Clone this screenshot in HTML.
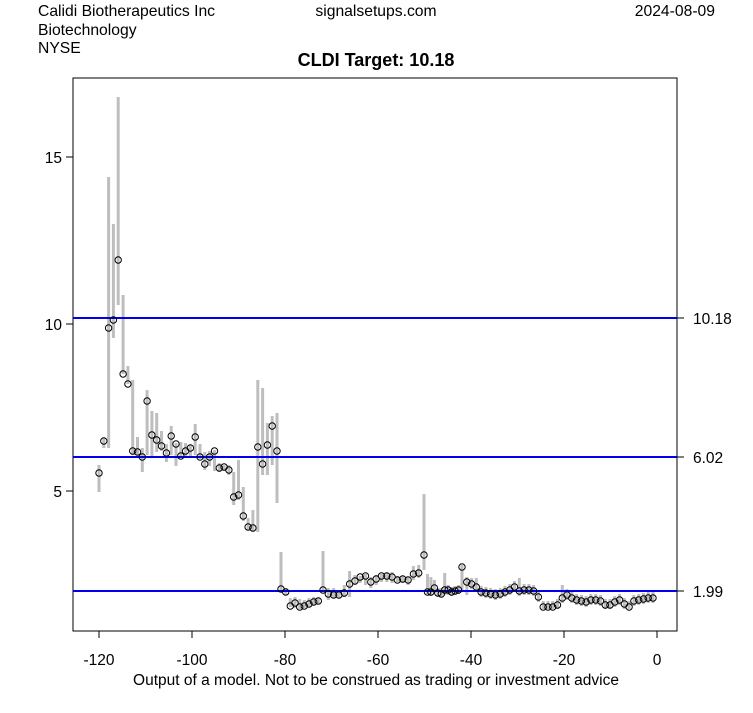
<!DOCTYPE html>
<html><head><style>
body{margin:0;background:#fff;}
svg text{font-family:"Liberation Sans",Arial,sans-serif;}
</style></head><body>
<svg id="s" width="753" height="708" xmlns="http://www.w3.org/2000/svg">
<rect width="753" height="708" fill="#fff"/>
<text x="38" y="16" font-size="15.7">Calidi Biotherapeutics Inc</text>
<text x="38" y="35" font-size="15.7">Biotechnology</text>
<text x="38" y="53" font-size="15.7">NYSE</text>
<text x="376" y="16" font-size="15.7" text-anchor="middle">signalsetups.com</text>
<text x="715" y="16" font-size="15.7" text-anchor="end">2024-08-09</text>
<text x="376" y="66" font-size="18" font-weight="bold" text-anchor="middle">CLDI Target: 10.18</text>
<rect x="73" y="78" width="604" height="553" fill="none" stroke="#000"/>
<g id="bars"></g>
<line x1="73" x2="677" y1="318" y2="318" stroke="#0000ee" stroke-width="2"/>
<line x1="73" x2="677" y1="457" y2="457" stroke="#0000ee" stroke-width="2"/>
<line x1="73" x2="677" y1="591" y2="591" stroke="#0000ee" stroke-width="2"/>
<g id="pts"></g>
<g stroke="#000">
<line x1="66" x2="73" y1="491" y2="491"/><line x1="66" x2="73" y1="324" y2="324"/><line x1="66" x2="73" y1="157" y2="157"/>
<line x1="677" x2="684" y1="318" y2="318"/><line x1="677" x2="684" y1="457" y2="457"/><line x1="677" x2="684" y1="591" y2="591"/>
</g>
<g font-size="15.5" text-anchor="end">
<text x="62" y="497">5</text><text x="62" y="330">10</text><text x="62" y="163">15</text>
</g>
<g font-size="15.5">
<text x="693" y="324">10.18</text><text x="693" y="463">6.02</text><text x="693" y="597">1.99</text>
</g>
<g id="xt" font-size="15.5" text-anchor="middle"></g>
<text x="376" y="685" font-size="15.5" text-anchor="middle">Output of a model. Not to be construed as trading or investment advice</text>
</svg>
<script>
var d=[[473,465,492],[441,438,448],[328,177,448],[320,224,338],[260,97,305],[374,295,374],[384,366,384],[451,380,455],[452,437,455],[457,448,472],[401,390,455],[435,411,458],[440,413,452],[446,431,451],[453,444,462],[436,426,455],[444,443,466],[456,442,458],[451,443,458],[448,445,457],[437,424,455],[457,444,459],[464,452,470],[457,451,466],[451,450,471],[468,463,472],[467,465,471],[470,465,475],[497,472,505],[495,460,500],[516,487,521],[527,518,530],[528,510,532],[447,380,532],[464,388,475],[445,423,475],[426,416,465],[451,413,503],
[589,552,590],[592,588,595],[606,598,607],[603,597,608],[607,599,609],[606,600,608],[604,598,607],[602,597,605],[601,598,604],[590,551,592],[594,588,600],[595,588,598],[595,590,598],[593,585,597],[584,571,597],[581,575,585],[577,576,583],[576,574,585],[582,577,588],[579,575,585],[576,574,582],[576,573,582],[577,572,583],[580,576,582],[579,576,583],[580,577,585],[574,566,580],[573,565,578],[555,494,570],[592,574,594],[592,577,596],[588,580,593],[593,588,596],[594,588,597],[590,573,595],[590,585,595],[592,587,596],[591,586,595],[590,585,594],[567,565,590],[582,577,595]];
var late=[584,587,592,593,594,595,594,592,590,587,591,590,590,591,597,607,607,607,605,598,595,598,600,601,602,600,600,601,605,605,602,600,604,607,601,600,599,598,598];
late.forEach(function(c,i){var lo=c-6,hi=c+5;if(i==19)lo=585;if(i==1||i==10)lo=578;d.push([c,lo,Math.min(hi,609)]);});
var n=d.length,bars="",pts="";
var A=[[0,99],[37,277],[38,281],[47,323],[66,424],[77,462],[n-1,653]];
function X(i){for(var k=0;k<A.length-1;k++){if(i<=A[k+1][0]){var a=A[k],b=A[k+1];return a[1]+(i-a[0])*(b[1]-a[1])/(b[0]-a[0]);}}return 653;}
for(var i=0;i<n;i++){var x=X(i).toFixed(1);var e=d[i];
bars+='<line x1="'+x+'" x2="'+x+'" y1="'+e[1]+'" y2="'+e[2]+'" stroke="#bebebe" stroke-width="3"/>';
pts+='<circle cx="'+x+'" cy="'+e[0]+'" r="3.2" fill="none" stroke="#000" stroke-width="1"/>';}
document.getElementById("bars").innerHTML=bars;document.getElementById("pts").innerHTML=pts;
var xt="",x0=99,sx=4.65;for(var t=-120;t<=0;t+=20){var x=x0+(t+120)*sx;xt+='<line x1="'+x+'" x2="'+x+'" y1="631" y2="638" stroke="#000"/><text x="'+x+'" y="665">'+t+'</text>';}
document.getElementById("xt").innerHTML=xt;
</script>
</body></html>
